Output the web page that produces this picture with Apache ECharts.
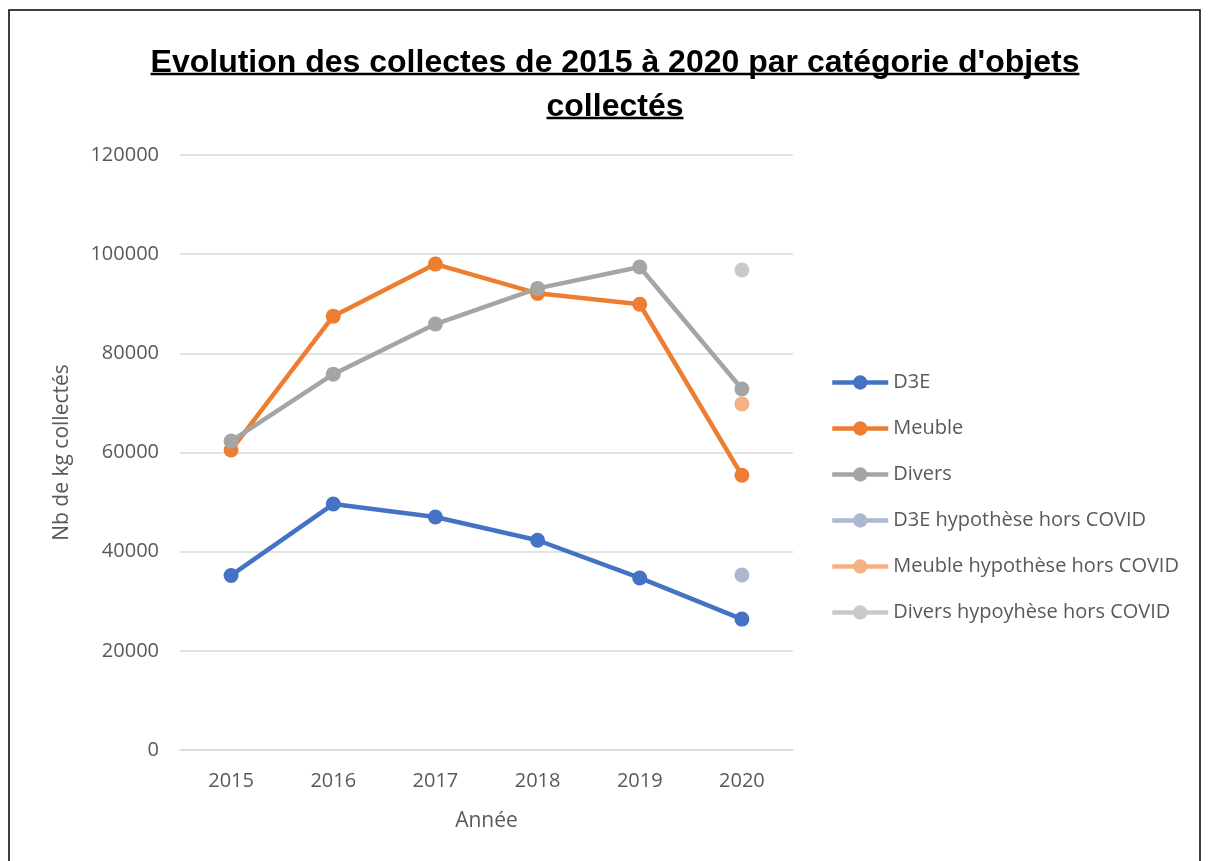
<!DOCTYPE html>
<html><head><meta charset="utf-8">
<script src="https://cdn.jsdelivr.net/npm/echarts@6/dist/echarts.min.js"></script>
<style>html,body{margin:0;padding:0;background:#fff;}#c{width:1209px;height:861px;}</style>
</head><body><div id="c"></div>
<script>
const years = ['2015','2016','2017','2018','2019','2020'];
const d3e = [35200, 49600, 47000, 42300, 34700, 26400];
const meuble = [60500, 87500, 98000, 92100, 89900, 55400];
const divers = [62300, 75800, 85900, 93100, 97400, 72800];
const d3eHyp = [null, null, null, null, null, 35300];
const meubleHyp = [null, null, null, null, null, 69800];
const diversHyp = [null, null, null, null, null, 96800];
const yTicks = [0, 20000, 40000, 60000, 80000, 100000, 120000];
const titleLines = ["Evolution des collectes de 2015 à 2020 par catégorie d'objets", "collectés"];

const chart = echarts.init(document.getElementById('c'), null, {renderer:'canvas'});
const FONT = "'Open Sans', sans-serif";
const TFONT = "'Liberation Sans', sans-serif";
const TSIZE = 32;
function mk(name, data, color) {
  return {
    name, type:'line', data, symbol:'circle', symbolSize:15,
    itemStyle:{color}, lineStyle:{color, width:4.5},
    showSymbol:true, connectNulls:false, emphasis:{disabled:true}
  };
}
const option = {
  animation:false,
  backgroundColor:'#fff',
  title:{
    text: titleLines.join('\n'), top:36, textAlign:'center',
    left: 610,
    textStyle:{fontFamily:TFONT, fontWeight:'bold', fontSize:TSIZE, color:'#000', lineHeight:44}
  },
  legend:{
    orient:'vertical', left:825, top:365, itemWidth:56, itemHeight:18, itemGap:21,
    lineStyle:{width:4.5},
    textStyle:{fontFamily:FONT, fontSize:20, color:'#595959', lineHeight:25},
    data:['D3E','Meuble','Divers','D3E hypothèse hors COVID','Meuble hypothèse hors COVID','Divers hypoyhèse hors COVID']
  },
  grid:{left:180, right:416, top:155, bottom:111, containLabel:false},
  xAxis:{
    type:'category', data:years, boundaryGap:true,
    axisLine:{lineStyle:{color:'#D9D9D9', width:1.5}}, axisTick:{show:false},
    axisLabel:{fontFamily:FONT, fontSize:20, color:'#595959', margin:21},
    name:'Année', nameLocation:'middle', nameGap:61,
    nameTextStyle:{fontFamily:FONT, fontSize:21, color:'#595959'}
  },
  yAxis:{
    type:'value', min:yTicks[0], max:yTicks[yTicks.length-1], interval:yTicks[1]-yTicks[0],
    axisLine:{show:false}, axisTick:{show:false},
    splitLine:{lineStyle:{color:'#D9D9D9', width:1.5}},
    axisLabel:{fontFamily:FONT, fontSize:20, color:'#595959', margin:21, formatter:v=>String(v)},
    name:'Nb de kg collectés', nameLocation:'middle', nameGap:107, nameRotate:90,
    nameTextStyle:{fontFamily:FONT, fontSize:21, color:'#595959'}
  },
  series:[
    mk('D3E', d3e, '#4472C4'),
    mk('Meuble', meuble, '#ED7D31'),
    mk('Divers', divers, '#A5A5A5'),
    mk('D3E hypothèse hors COVID', d3eHyp, '#AAB8D0'),
    mk('Meuble hypothèse hors COVID', meubleHyp, '#F4B183'),
    mk('Divers hypoyhèse hors COVID', diversHyp, '#C9C9C9')
  ]
};
chart.setOption(option);

// underline title lines + outer border
const ctx = document.createElement('canvas').getContext('2d');
ctx.font = "bold " + TSIZE + "px " + TFONT;
const gfx = [];
const baseY = [74, 118];
titleLines.forEach((t,i)=>{
  const w = ctx.measureText(t).width;
  gfx.push({type:'line', shape:{x1:615-w/2, y1:baseY[i], x2:615+w/2, y2:baseY[i]}, style:{stroke:'#000', lineWidth:2.5}, silent:true});
});
gfx.push({type:'rect', shape:{x:9, y:10, width:1191, height:900}, style:{fill:null, stroke:'#000', lineWidth:1.5}, silent:true});
chart.setOption({graphic:gfx});
</script></body></html>
